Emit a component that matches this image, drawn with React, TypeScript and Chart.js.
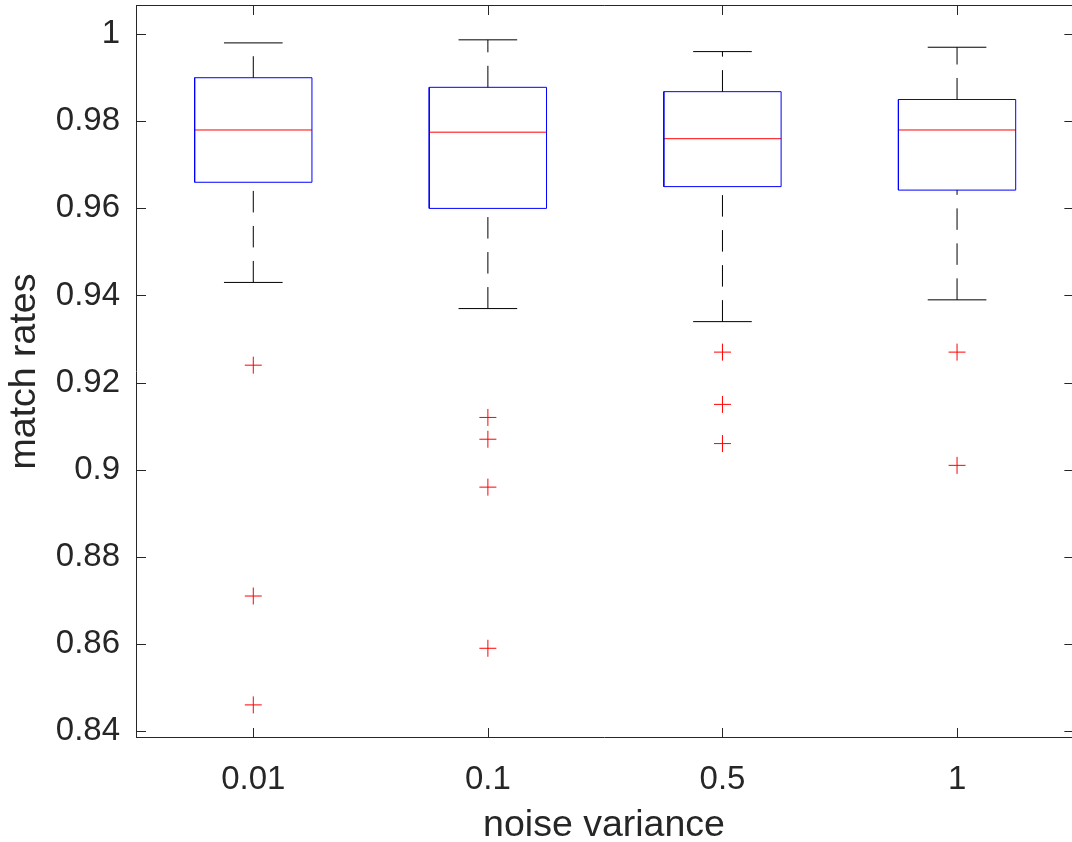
import React, { useEffect, useRef } from 'react';
import { Chart, registerables } from 'chart.js';

Chart.register(...registerables);

// ---- data ----
const categories = ['0.01', '0.1', '0.5', '1'];
const upperWhisker = [0.998, 0.9987, 0.996, 0.997];
const q3 = [0.990, 0.9878, 0.9868, 0.985];
const median = [0.978, 0.9775, 0.976, 0.978];
const q1 = [0.966, 0.960, 0.965, 0.9642];
const lowerWhisker = [0.943, 0.937, 0.934, 0.939];
const outliers = [
  [0.924, 0.871, 0.846],
  [0.912, 0.907, 0.896, 0.859],
  [0.927, 0.915, 0.906],
  [0.927, 0.901],
];
const yTickValues = [0.84, 0.86, 0.88, 0.9, 0.92, 0.94, 0.96, 0.98, 1];
const yTickLabels = ['0.84', '0.86', '0.88', '0.9', '0.92', '0.94', '0.96', '0.98', '1'];
const xTitle = 'noise variance';
const yTitle = 'match rates';

const FONT = "'Liberation Sans', Arial, Helvetica, sans-serif";
const AXIS_COLOR = '#262626';

export default function App() {
  const ref = useRef<HTMLCanvasElement>(null);

  useEffect(() => {
    const canvas = ref.current;
    if (!canvas) return;
    const BOX_HALF = 0.25;
    const CAP_HALF = 0.125;
    const datasets: any[] = [];
    const lineBase = { showLine: true, pointRadius: 0, pointHoverRadius: 0, fill: false, tension: 0 };

    categories.forEach((_, i) => {
      const x = i + 1;
      // lower whisker (dashed), drawn upward from cap
      datasets.push({ ...lineBase, data: [{ x, y: lowerWhisker[i] }, { x, y: q1[i] }], borderColor: '#000000', borderWidth: 1, borderDash: [21.5, 13.5] });
      // upper whisker (dashed)
      datasets.push({ ...lineBase, data: [{ x, y: q3[i] }, { x, y: upperWhisker[i] }], borderColor: '#000000', borderWidth: 1, borderDash: [21.5, 13.5] });
      // caps
      datasets.push({ ...lineBase, data: [{ x: x - CAP_HALF, y: lowerWhisker[i] }, { x: x + CAP_HALF, y: lowerWhisker[i] }], borderColor: '#000000', borderWidth: 1 });
      datasets.push({ ...lineBase, data: [{ x: x - CAP_HALF, y: upperWhisker[i] }, { x: x + CAP_HALF, y: upperWhisker[i] }], borderColor: '#000000', borderWidth: 1 });
      // box
      datasets.push({
        ...lineBase,
        data: [
          { x: x - BOX_HALF, y: q1[i] },
          { x: x + BOX_HALF, y: q1[i] },
          { x: x + BOX_HALF, y: q3[i] },
          { x: x - BOX_HALF, y: q3[i] },
          { x: x - BOX_HALF, y: q1[i] },
        ],
        borderColor: '#0000ff',
        borderWidth: 1,
      });
      // median
      datasets.push({ ...lineBase, data: [{ x: x - BOX_HALF, y: median[i] }, { x: x + BOX_HALF, y: median[i] }], borderColor: '#ff0000', borderWidth: 1 });
      // outliers
      datasets.push({
        showLine: false,
        data: outliers[i].map((v) => ({ x, y: v })),
        pointStyle: 'cross',
        pointRadius: 8.5,
        pointHoverRadius: 8.5,
        borderColor: '#ff0000',
        backgroundColor: '#ff0000',
        pointBorderWidth: 1,
        borderWidth: 1,
      });
    });

    const framePlugin = {
      id: 'frame',
      afterDatasetsDraw(chart: any) {
        const { ctx, chartArea } = chart;
        const xs = chart.scales.x;
        const ys = chart.scales.y;
        const { left, top, bottom } = chartArea;
        const right = xs.getPixelForValue(4.5);
        ctx.save();
        ctx.strokeStyle = AXIS_COLOR;
        ctx.lineWidth = 1;
        ctx.beginPath();
        ctx.moveTo(left + 0.5, top + 0.5);
        ctx.lineTo(right, top + 0.5);
        ctx.moveTo(left + 0.5, top);
        ctx.lineTo(left + 0.5, bottom);
        ctx.moveTo(left, bottom - 0.5);
        ctx.lineTo(right, bottom - 0.5);
        ctx.moveTo(right - 0.5, top);
        ctx.lineTo(right - 0.5, bottom);
        const TL = 10;
        categories.forEach((_, i) => {
          const px = Math.round(xs.getPixelForValue(i + 1)) + 0.5;
          ctx.moveTo(px, bottom);
          ctx.lineTo(px, bottom - TL);
          ctx.moveTo(px, top);
          ctx.lineTo(px, top + TL);
        });
        yTickValues.forEach((v) => {
          const py = Math.round(ys.getPixelForValue(v)) + 0.5;
          ctx.moveTo(left, py);
          ctx.lineTo(left + TL, py);
          ctx.moveTo(right, py);
          ctx.lineTo(right - TL, py);
        });
        ctx.stroke();
        ctx.restore();
      },
    };

    const chart = new Chart(canvas, {
      type: 'scatter',
      data: { datasets },
      plugins: [framePlugin],
      options: {
        animation: false,
        responsive: false,
        devicePixelRatio: 1,
        events: [],
        layout: { autoPadding: false, padding: { top: 5, right: 0, left: 0, bottom: 0 } },
        plugins: { legend: { display: false }, tooltip: { enabled: false } },
        scales: {
          x: {
            type: 'linear',
            position: 'bottom',
            min: 0.5,
            max: 4.49,
            grid: { display: false, drawTicks: false },
            border: { display: false },
            afterBuildTicks: (scale: any) => {
              scale.ticks = categories.map((_, i) => ({ value: i + 1 }));
            },
            afterFit: (scale: any) => {
              scale.height = 104;
              scale.paddingLeft = 0;
              scale.paddingRight = 0;
            },
            ticks: {
              autoSkip: false,
              maxRotation: 0,
              padding: 22,
              color: AXIS_COLOR,
              font: { family: FONT, size: 33 },
              callback: (v: any) => categories[Math.round(Number(v)) - 1] ?? '',
            },
            title: {
              display: true,
              text: xTitle,
              color: AXIS_COLOR,
              font: { family: FONT, size: 37.5, lineHeight: 1 },
              padding: { top: 0, bottom: -2 },
            },
          },
          y: {
            type: 'linear',
            position: 'left',
            min: 0.8384,
            max: 1.0067,
            grid: { display: false, drawTicks: false },
            border: { display: false },
            afterBuildTicks: (scale: any) => {
              scale.ticks = yTickValues.map((v) => ({ value: v }));
            },
            afterFit: (scale: any) => {
              scale.width = 136;
              scale.paddingTop = 0;
              scale.paddingBottom = 0;
            },
            ticks: {
              autoSkip: false,
              padding: 16,
              color: AXIS_COLOR,
              font: { family: FONT, size: 33 },
              callback: (v: any) => {
                const idx = yTickValues.findIndex((t) => Math.abs(t - Number(v)) < 1e-9);
                return idx >= 0 ? yTickLabels[idx] : '';
              },
            },
            title: {
              display: true,
              text: yTitle,
              color: AXIS_COLOR,
              font: { family: FONT, size: 37.5, lineHeight: 1 },
              padding: { top: 5.5, bottom: 0 },
            },
          },
        },
      } as any,
    });
    return () => chart.destroy();
  }, []);

  return (
    <div style={{ position: 'fixed', left: 0, top: 0, width: 1072, height: 842, background: '#ffffff' }}>
      <canvas ref={ref} width={1072} height={842} style={{ display: 'block', width: 1072, height: 842 }} />
    </div>
  );
}
